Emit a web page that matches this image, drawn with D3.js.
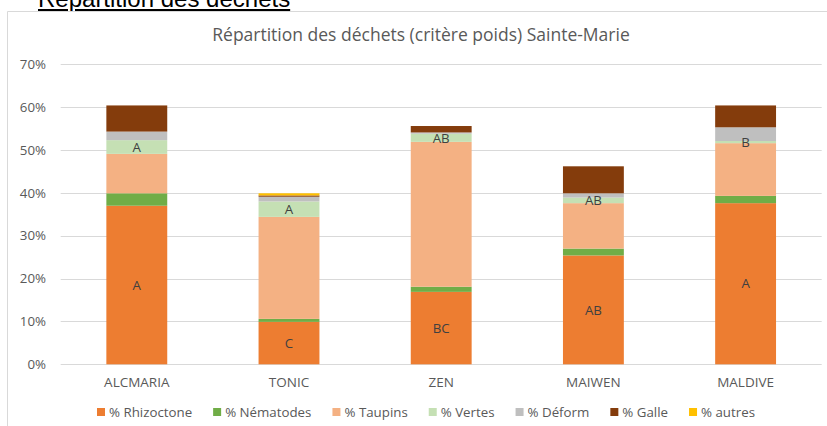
<!DOCTYPE html>
<html>
<head>
<meta charset="utf-8">
<script src="https://d3js.org/d3.v7.min.js"></script>
<style>
  body { margin: 0; background: #fff; }
  svg { display: block; }
</style>
</head>
<body>
<svg id="chart"></svg>
<script>
// data (percent of weight)
const categories = ["ALCMARIA", "TONIC", "ZEN", "MAIWEN", "MALDIVE"]
const seriesNames = ["% Rhizoctone", "% Nématodes", "% Taupins", "% Vertes", "% Déform", "% Galle", "% autres"]
const rhizoctone = [37.0, 9.9, 16.9, 25.4, 37.6]
const nematodes = [2.9, 0.7, 1.2, 1.6, 1.7]
const taupins = [9.2, 23.8, 33.8, 10.6, 12.3]
const vertes = [3.2, 3.6, 1.9, 1.3, 0.5]
const deform = [2.0, 1.1, 0.3, 1.0, 3.2]
const galle = [6.1, 0.3, 1.5, 6.3, 5.1]
const autres = [0, 0.5, 0, 0, 0]
const rhizoLabels = ["A", "C", "BC", "AB", "A"]
const vertesLabels = ["A", "A", "AB", "AB", "B"]
const yTicks = [0, 10, 20, 30, 40, 50, 60, 70]

const colors = ["#ED7D31", "#70AD47", "#F4B183", "#C5E0B4", "#BFBFBF", "#843C0C", "#FFC000"]
const allSeries = [rhizoctone, nematodes, taupins, vertes, deform, galle, autres]

const width = 827, height = 426
const font = 'Open Sans, sans-serif'
const svg = d3.select('#chart').attr('width', width).attr('height', height)

// page heading, cut off at the top as in the source
svg.append('text')
    .attr('x', 38)
    .attr('y', 7)
    .style('font-family', 'Liberation Sans, Arial, sans-serif')
    .style('font-size', '24px')
    .style('text-decoration', 'underline')
    .style('fill', '#000')
    .text('Répartition des déchets')

// chart frame (left and top edges visible)
svg.append('path')
    .attr('d', 'M7.5,' + height + 'V11.5H' + width)
    .style('fill', 'none')
    .style('stroke', '#D9D9D9')
    .style('stroke-width', 1)

svg.append('text')
    .attr('x', 421)
    .attr('y', 41)
    .attr('text-anchor', 'middle')
    .style('font-family', font)
    .style('font-size', '17.5px')
    .style('fill', '#595959')
    .text('Répartition des déchets (critère poids) Sainte-Marie')

const x = d3.scaleBand()
    .domain(categories)
    .range([60.7, 821.7])
    .paddingInner(0.6)
    .paddingOuter(0.3)

const y = d3.scaleLinear()
    .domain([0, 70])
    .range([364.3, 64.3])

// gridlines
svg.append('g')
    .selectAll('line')
    .data(yTicks)
    .enter().append('line')
    .attr('x1', 60.7)
    .attr('x2', 821.7)
    .attr('y1', d => Math.round(y(d)) + 0.5)
    .attr('y2', d => Math.round(y(d)) + 0.5)
    .style('stroke', '#D9D9D9')
    .style('stroke-width', 1)

// y labels
svg.append('g')
    .selectAll('text')
    .data(yTicks)
    .enter().append('text')
    .attr('x', 46)
    .attr('y', d => y(d) + 4.7)
    .attr('text-anchor', 'end')
    .style('font-family', font)
    .style('font-size', '13.3px')
    .style('fill', '#595959')
    .text(d => d + '%')

// stacked bars
const rows = categories.map((c, i) => {
  const r = { cat: c }
  seriesNames.forEach((s, k) => { r[s] = allSeries[k][i] })
  return r
})
const stacked = d3.stack().keys(seriesNames)(rows)

svg.append('g')
    .selectAll('g')
    .data(stacked)
    .enter().append('g')
    .style('fill', (d, k) => colors[k])
    .selectAll('rect')
    .data(d => d)
    .enter().append('rect')
    .attr('x', d => x(d.data.cat))
    .attr('width', x.bandwidth())
    .attr('y', d => y(d[1]))
    .attr('height', d => y(d[0]) - y(d[1]))

// letter labels on the rhizoctone and vertes segments
function addLabels(layer, labels) {
  svg.append('g')
      .selectAll('text')
      .data(stacked[layer])
      .enter().append('text')
      .attr('x', d => x(d.data.cat) + x.bandwidth() / 2)
      .attr('y', d => y((d[0] + d[1]) / 2) + 4.7)
      .attr('text-anchor', 'middle')
      .style('font-family', font)
      .style('font-size', '13.3px')
      .style('fill', '#404040')
      .text((d, i) => labels[i])
}
addLabels(0, rhizoLabels)
addLabels(3, vertesLabels)

// category labels
svg.append('g')
    .selectAll('text')
    .data(categories)
    .enter().append('text')
    .attr('x', d => x(d) + x.bandwidth() / 2)
    .attr('y', 387)
    .attr('text-anchor', 'middle')
    .style('font-family', font)
    .style('font-size', '13.5px')
    .style('fill', '#595959')
    .text(d => d)

// legend
const legend = svg.append('g')
let lx = 97
seriesNames.forEach((s, k) => {
  legend.append('rect')
      .attr('x', lx)
      .attr('y', 408)
      .attr('width', 8)
      .attr('height', 8)
      .style('fill', colors[k])
  const t = legend.append('text')
      .attr('x', lx + 12)
      .attr('y', 417)
      .style('font-family', font)
      .style('font-size', '13.3px')
      .style('fill', '#595959')
      .text(s)
  lx += 12 + t.node().getComputedTextLength() + 21
})
</script>
</body>
</html>
